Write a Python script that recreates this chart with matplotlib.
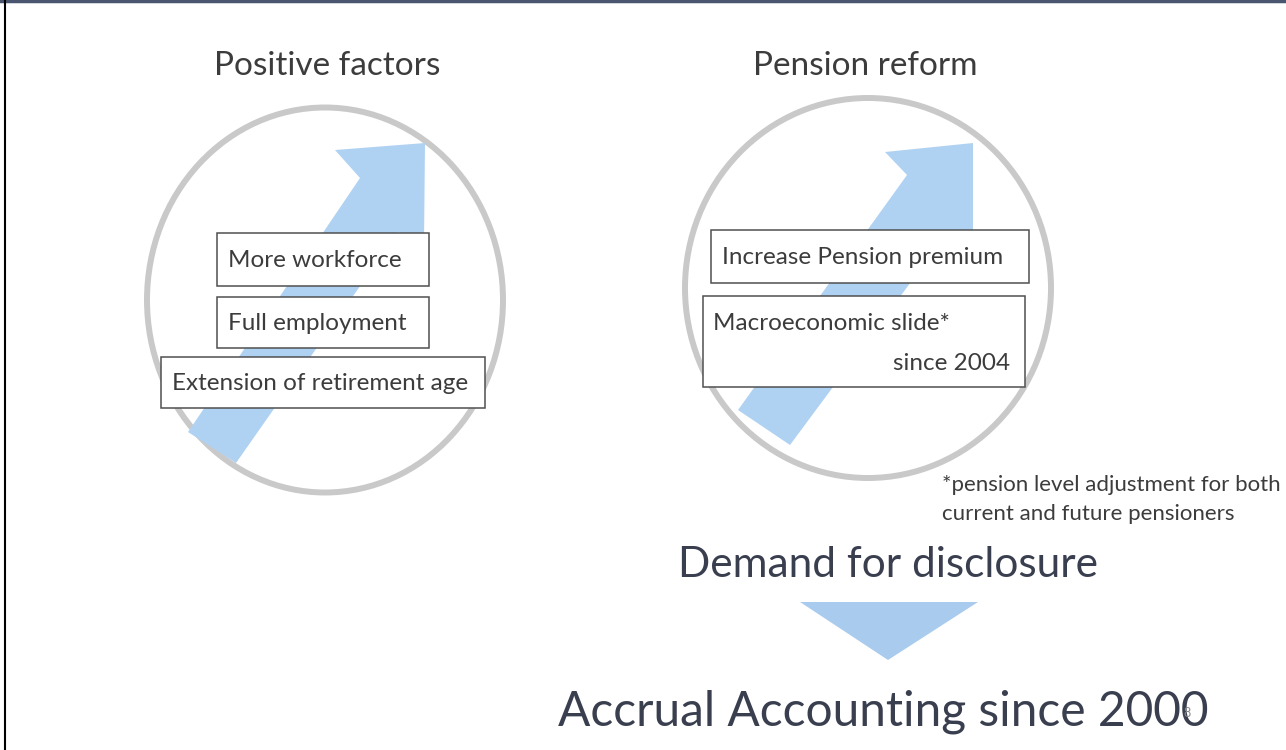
import matplotlib.pyplot as plt
from matplotlib.patches import Ellipse, Polygon, Rectangle

# --- tresc slajdu ---
naglowki = ["Positive factors", "Pension reform"]
naglowki_xy = [(327, 66), (865, 66)]

lewe_boxy = ["More workforce", "Full employment", "Extension of retirement age"]
lewe_ramki = [(217, 233, 212, 53), (217, 297, 212, 51), (161, 357, 324, 51)]

prawe_boxy = ["Increase Pension premium", "Macroeconomic slide*", "since 2004"]
prawe_ramki = [(711, 230, 318, 53), (703, 296, 322, 91)]

przypis = ["*pension level adjustment for both", "current and future pensioners"]
popyt = "Demand for disclosure"
wynik = "Accrual Accounting since 2000"
strona = "8"

# kola (srodek x, srodek y, szer, wys)
kola = [(325, 300, 356, 385), (868, 288, 366, 380)]

# strzalki w gore (wierzcholki w pikselach slajdu)
strzalka_l = [(188, 432), (236, 463), (398, 232), (424, 245), (425, 143), (335, 150), (360, 178)]
strzalka_p = [(738, 410), (790, 445), (948, 232), (973, 245), (973, 143), (885, 152), (907, 175)]
trojkat = [(800, 602), (978, 602), (888, 660)]

niebieski = "#b0d2f2"
szary = "#c9c9c9"
tekst = "#3c3c3c"
font = "Lato"

fig = plt.figure(figsize=(12.86, 7.5), dpi=100)
ax = fig.add_axes([0, 0, 1, 1])
ax.set_xlim(0, 1286)
ax.set_ylim(750, 0)
ax.axis("off")

# ramka slajdu
ax.plot([0, 1286], [1, 1], color="#4a5570", lw=2.5)
ax.plot([5, 5], [0, 750], color="black", lw=1.5)

for k in kola:
    ax.add_patch(Ellipse((k[0], k[1]), k[2], k[3], fill=False, ec=szary, lw=4.3, zorder=1))

ax.add_patch(Polygon(strzalka_l, closed=True, fc=niebieski, ec="none", zorder=2))
ax.add_patch(Polygon(strzalka_p, closed=True, fc=niebieski, ec="none", zorder=2))
ax.add_patch(Polygon(trojkat, closed=True, fc="#a9cbee", ec="none", zorder=2))

for r in lewe_ramki + prawe_ramki:
    ax.add_patch(Rectangle((r[0], r[1]), r[2], r[3], fc="white", ec="#505050", lw=1.1, zorder=3))

for i in range(len(naglowki)):
    ax.text(naglowki_xy[i][0], naglowki_xy[i][1], naglowki[i], ha="center", va="center",
            fontsize=24, color=tekst, family=font, zorder=4)

rozmiar_boxu = 17.5
for i in range(len(lewe_boxy)):
    r = lewe_ramki[i]
    ax.text(r[0] + 11, r[1] + r[3] / 2 + 1, lewe_boxy[i], ha="left", va="center",
            fontsize=rozmiar_boxu, color=tekst, family=font, zorder=4)

r = prawe_ramki[0]
ax.text(r[0] + 11, r[1] + r[3] / 2 + 1, prawe_boxy[0], ha="left", va="center",
        fontsize=rozmiar_boxu, color=tekst, family=font, zorder=4)
r = prawe_ramki[1]
ax.text(r[0] + 10, r[1] + 28, prawe_boxy[1], ha="left", va="center",
        fontsize=rozmiar_boxu, color=tekst, family=font, zorder=4)
ax.text(r[0] + r[2] - 15, r[1] + 67, prawe_boxy[2], ha="right", va="center",
        fontsize=rozmiar_boxu, color=tekst, family=font, zorder=4)

ax.text(942, 485, przypis[0], ha="left", va="center", fontsize=16, color=tekst, family=font)
ax.text(942, 514, przypis[1], ha="left", va="center", fontsize=16, color=tekst, family=font)

ax.text(678, 565, popyt, ha="left", va="center", fontsize=30.5, color="#3a3f4f", family=font)
ax.text(558, 712, wynik, ha="left", va="center", fontsize=34.5, color="#3a3f4f", family=font)
ax.text(1187, 713, strona, ha="center", va="center", fontsize=9, color="#888888", family=font)

plt.savefig("out.png", dpi=100)
